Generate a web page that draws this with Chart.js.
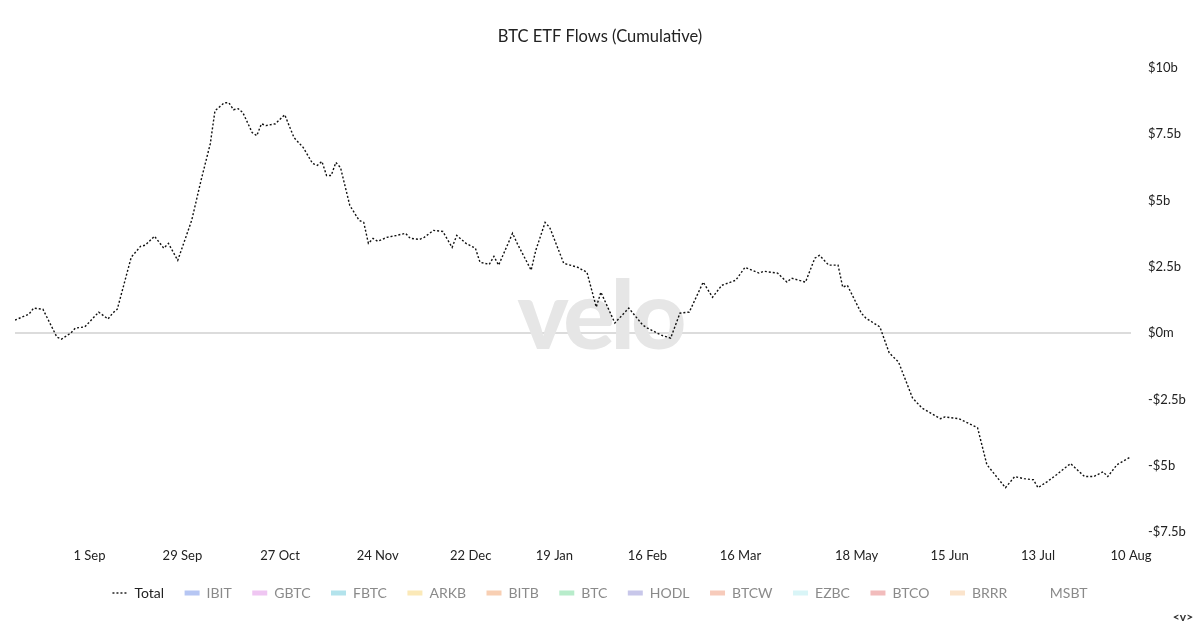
<!DOCTYPE html>
<html><head><meta charset="utf-8">
<script src="https://cdn.jsdelivr.net/npm/chart.js@4.4.1/dist/chart.umd.min.js"></script>
<style>html,body{margin:0;padding:0;background:#fff}#wrap{width:1200px;height:628px;position:relative}</style>
</head><body><div id="wrap"><canvas id="c"></canvas></div>
<script>
// session index (x position in trading sessions) and cumulative total flows in $ billions
const sessionIdx = [0,3,4,6,9,10,12,13,15,18,20,21,22,25,27,28,30,32,33,35,38,40,42,43,45,46,47,48,49,51,52,53,54,56,58,60,62,64,65,66,67,68,69,70,72,74,75,76,77,78,80,82,84,85,87,88,90,92,94,95,97,99,100,102,103,104,107,108,111,112,114,115,118,121,123,125,126,129,132,135,136,139,141,143,145,148,150,152,155,157,160,161,164,166,167,170,172,173,175,177,178,179,182,183,186,188,190,193,195,199,200,203,207,209,213,215,217,219,220,222,224,227,230,232,234,235,237,240];
const totalFlowsB = [0.49,0.71,0.94,0.90,-0.15,-0.23,0.00,0.19,0.23,0.79,0.53,0.75,0.90,2.86,3.27,3.31,3.65,3.20,3.38,2.74,4.25,5.75,7.14,8.38,8.68,8.68,8.42,8.46,8.31,7.56,7.44,7.89,7.82,7.89,8.23,7.37,6.99,6.39,6.32,6.47,5.94,5.94,6.43,6.24,4.81,4.25,4.17,3.38,3.57,3.46,3.61,3.68,3.76,3.57,3.53,3.61,3.87,3.83,3.23,3.68,3.38,3.20,2.67,2.59,2.89,2.56,3.76,3.38,2.37,3.12,4.17,3.98,2.63,2.48,2.29,0.98,1.54,0.38,0.94,0.30,0.19,-0.08,-0.19,0.75,0.79,1.92,1.35,1.80,1.99,2.48,2.26,2.33,2.26,1.92,2.07,1.92,2.82,2.93,2.56,2.56,1.73,1.80,0.75,0.56,0.23,-0.75,-1.09,-2.44,-2.82,-3.23,-3.16,-3.23,-3.57,-4.96,-5.83,-5.41,-5.49,-5.53,-5.83,-5.60,-5.34,-4.92,-5.41,-5.41,-5.23,-5.41,-4.96,-4.66];
const tickIdx = [16,36,57,78,98,116,136,156,181,201,220,240];
const tickLabels = ['1 Sep','29 Sep','27 Oct','24 Nov','22 Dec','19 Jan','16 Feb','16 Mar','18 May','15 Jun','13 Jul','10 Aug'];
const yTickValues = [-7.5,-5,-2.5,0,2.5,5,7.5,10];
const yTickLabels = ['-$7.5b','-$5b','-$2.5b','$0m','$2.5b','$5b','$7.5b','$10b'];
const etfNames = ['IBIT','GBTC','FBTC','ARKB','BITB','BTC','HODL','BTCW','EZBC','BTCO','BRRR','MSBT'];
const etfColors = ['#b6c6f3','#efc6f2','#b3e3ec','#fbe9b8','#f8cfb3','#b8eccb','#c8c7ea','#f7cbbb','#d9f5f7','#f2bcbc','#fbe4cc','rgba(0,0,0,0)'];

Chart.defaults.font.family = 'Lato, "Open Sans", sans-serif';

const watermark = {
  id: 'watermark',
  beforeDatasetsDraw(chart) {
    const {ctx} = chart;
    ctx.save();
    ctx.fillStyle = '#e6e6e6';
    ctx.font = '900 96px Lato, sans-serif';
    try { ctx.letterSpacing = '-4px'; } catch(e) {}
    ctx.textAlign = 'center';
    ctx.textBaseline = 'alphabetic';
    ctx.fillText('velo', 600, 349);
    ctx.restore();
  },
  afterDraw(chart) {
    const {ctx} = chart;
    ctx.save();
    ctx.fillStyle = '#333';
    ctx.font = 'bold 12px Lato, sans-serif';
    ctx.textAlign = 'center';
    ctx.textBaseline = 'middle';
    ctx.fillText('<v>', 1183, 617);
    ctx.restore();
  }
};

const datasets = [{
  label: 'Total',
  data: sessionIdx.map((x, i) => ({x, y: totalFlowsB[i]})),
  borderColor: '#111',
  borderWidth: 1.4,
  borderDash: [2, 2],
  pointRadius: 0,
  tension: 0,
  fill: false
}].concat(etfNames.map((n, i) => ({
  label: n, data: [], backgroundColor: etfColors[i], borderColor: etfColors[i], pointRadius: 0
})));

new Chart(document.getElementById('c'), {
  type: 'line',
  data: { datasets },
  plugins: [watermark],
  options: {
    responsive: true,
    maintainAspectRatio: false,
    animation: false,
    layout: { padding: { left: 0, right: 0, top: 0, bottom: 18 } },
    plugins: {
      tooltip: { enabled: false },
      title: {
        display: true, text: 'BTC ETF Flows (Cumulative)', color: '#222',
        font: { size: 16.5, weight: 'normal' }, padding: { top: 27, bottom: 21 }
      },
      legend: {
        position: 'bottom',
        labels: {
          boxWidth: 15, boxHeight: 0, padding: 20.5, font: { size: 14 },
          generateLabels(chart) {
            return chart.data.datasets.map((ds, i) => {
              const isTotal = i === 0;
              const transparent = ds.backgroundColor === 'rgba(0,0,0,0)';
              return {
                text: ds.label, datasetIndex: i,
                fillStyle: 'rgba(0,0,0,0)',
                strokeStyle: isTotal ? '#222' : ds.backgroundColor,
                lineWidth: isTotal ? 1.4 : (transparent ? 0 : 5),
                lineDash: isTotal ? [2, 2] : [],
                lineCap: 'butt', lineJoin: 'miter',
                fontColor: isTotal ? '#222' : '#8a8a8a',
                hidden: false
              };
            });
          }
        }
      }
    },
    scales: {
      x: {
        type: 'linear', min: 0, max: 240,
        grid: { display: false, drawTicks: false },
        border: { display: false },
        afterBuildTicks(scale) { scale.ticks = tickIdx.map(v => ({ value: v })); },
        afterFit(scale) { scale.height = 33.5; },
        ticks: {
          autoSkip: false, maxRotation: 0, padding: 16, color: '#222', font: { size: 13 },
          callback(v) { const k = tickIdx.indexOf(v); return k >= 0 ? tickLabels[k] : ''; }
        }
      },
      yPad: {
        position: 'left', min: -7.5, max: 10,
        grid: { display: false, drawTicks: false },
        border: { display: false },
        ticks: { display: false },
        afterFit(scale) { scale.width = 15; }
      },
      y: {
        position: 'right', min: -7.5, max: 10,
        afterBuildTicks(scale) { scale.ticks = yTickValues.map(v => ({ value: v })); },
        afterFit(scale) { scale.width = 69; },
        border: { display: false },
        grid: {
          drawTicks: false,
          color: c => (c.tick && c.tick.value === 0) ? '#dcdcdc' : 'rgba(0,0,0,0)',
          lineWidth: 2
        },
        ticks: {
          padding: 17, color: '#222', font: { size: 13 },
          callback(v) { const k = yTickValues.indexOf(v); return k >= 0 ? yTickLabels[k] : ''; }
        }
      }
    }
  }
});
</script></body></html>
